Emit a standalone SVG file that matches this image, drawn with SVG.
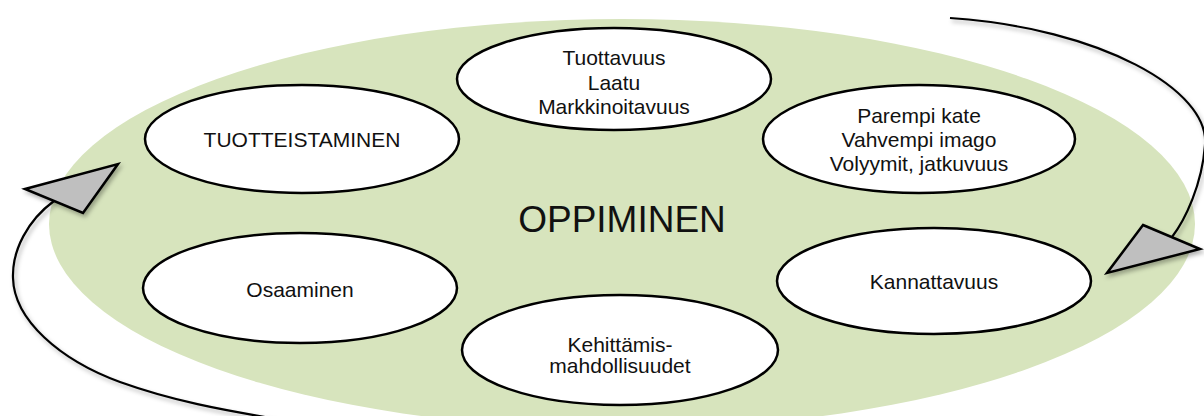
<svg xmlns="http://www.w3.org/2000/svg" width="1204" height="416" viewBox="0 0 1204 416">
<defs>
<filter id="sh" x="-20%" y="-20%" width="140%" height="140%">
<feDropShadow dx="2" dy="3" stdDeviation="2" flood-color="#000" flood-opacity="0.3"/>
</filter>
</defs>
<style>
.bg{fill:#d7e4bd;stroke:none}
.node{fill:#fff;stroke:#000;stroke-width:2.5}
.arc{fill:none;stroke:#000;stroke-width:2.2;filter:url(#sh)}
.head{fill:#bfbfbf;stroke:#000;stroke-width:2.5;stroke-linejoin:miter;filter:url(#sh)}
.t{font-family:"Liberation Sans",Arial,sans-serif;font-size:21px;fill:#111;text-anchor:middle}
.big{font-family:"Liberation Sans",Arial,sans-serif;font-size:37px;fill:#111;text-anchor:middle}
</style>
<rect width="1204" height="416" fill="#fff"/>
<g id="oppiminen">
<ellipse class="bg" cx="622" cy="224" rx="573" ry="205"/>
<text class="big" x="622" y="232">OPPIMINEN</text>
</g>
<g id="connectors">
<path class="arc" d="M950,18 C1100,28 1210,90 1205,145 C1202,185 1185,220 1172,237"/>
<polygon class="head" points="1143,225 1200,249 1107,273"/>
<path class="arc" d="M54,201 C28,220 12,250 13,278 C14,320 60,360 120,382 C170,400 220,410 290,421"/>
<polygon class="head" points="25,189 118,164 83,213"/>
</g>
<g id="tuotteistaminen">
<ellipse class="node" cx="302" cy="139" rx="157" ry="54"/>
<text class="t" x="302" y="147">TUOTTEISTAMINEN</text>
</g>
<g id="tuottavuus">
<ellipse class="node" cx="614" cy="79" rx="157" ry="51"/>
<text class="t" x="614" y="65">Tuottavuus</text>
<text class="t" x="614" y="89.5">Laatu</text>
<text class="t" x="614" y="114">Markkinoitavuus</text>
</g>
<g id="parempi">
<ellipse class="node" cx="919" cy="139" rx="156" ry="54"/>
<text class="t" x="919" y="123">Parempi kate</text>
<text class="t" x="919" y="147">Vahvempi imago</text>
<text class="t" x="919" y="171">Volyymit, jatkuvuus</text>
</g>
<g id="osaaminen">
<ellipse class="node" cx="300" cy="288" rx="157" ry="55"/>
<text class="t" x="300" y="297">Osaaminen</text>
</g>
<g id="kannattavuus">
<ellipse class="node" cx="934" cy="281" rx="157" ry="53"/>
<text class="t" x="934" y="289">Kannattavuus</text>
</g>
<g id="kehittamis">
<ellipse class="node" cx="620" cy="350" rx="158" ry="55"/>
<text class="t" x="620" y="352">Kehittämis-</text>
<text class="t" x="620" y="373">mahdollisuudet</text>
</g>
</svg>
